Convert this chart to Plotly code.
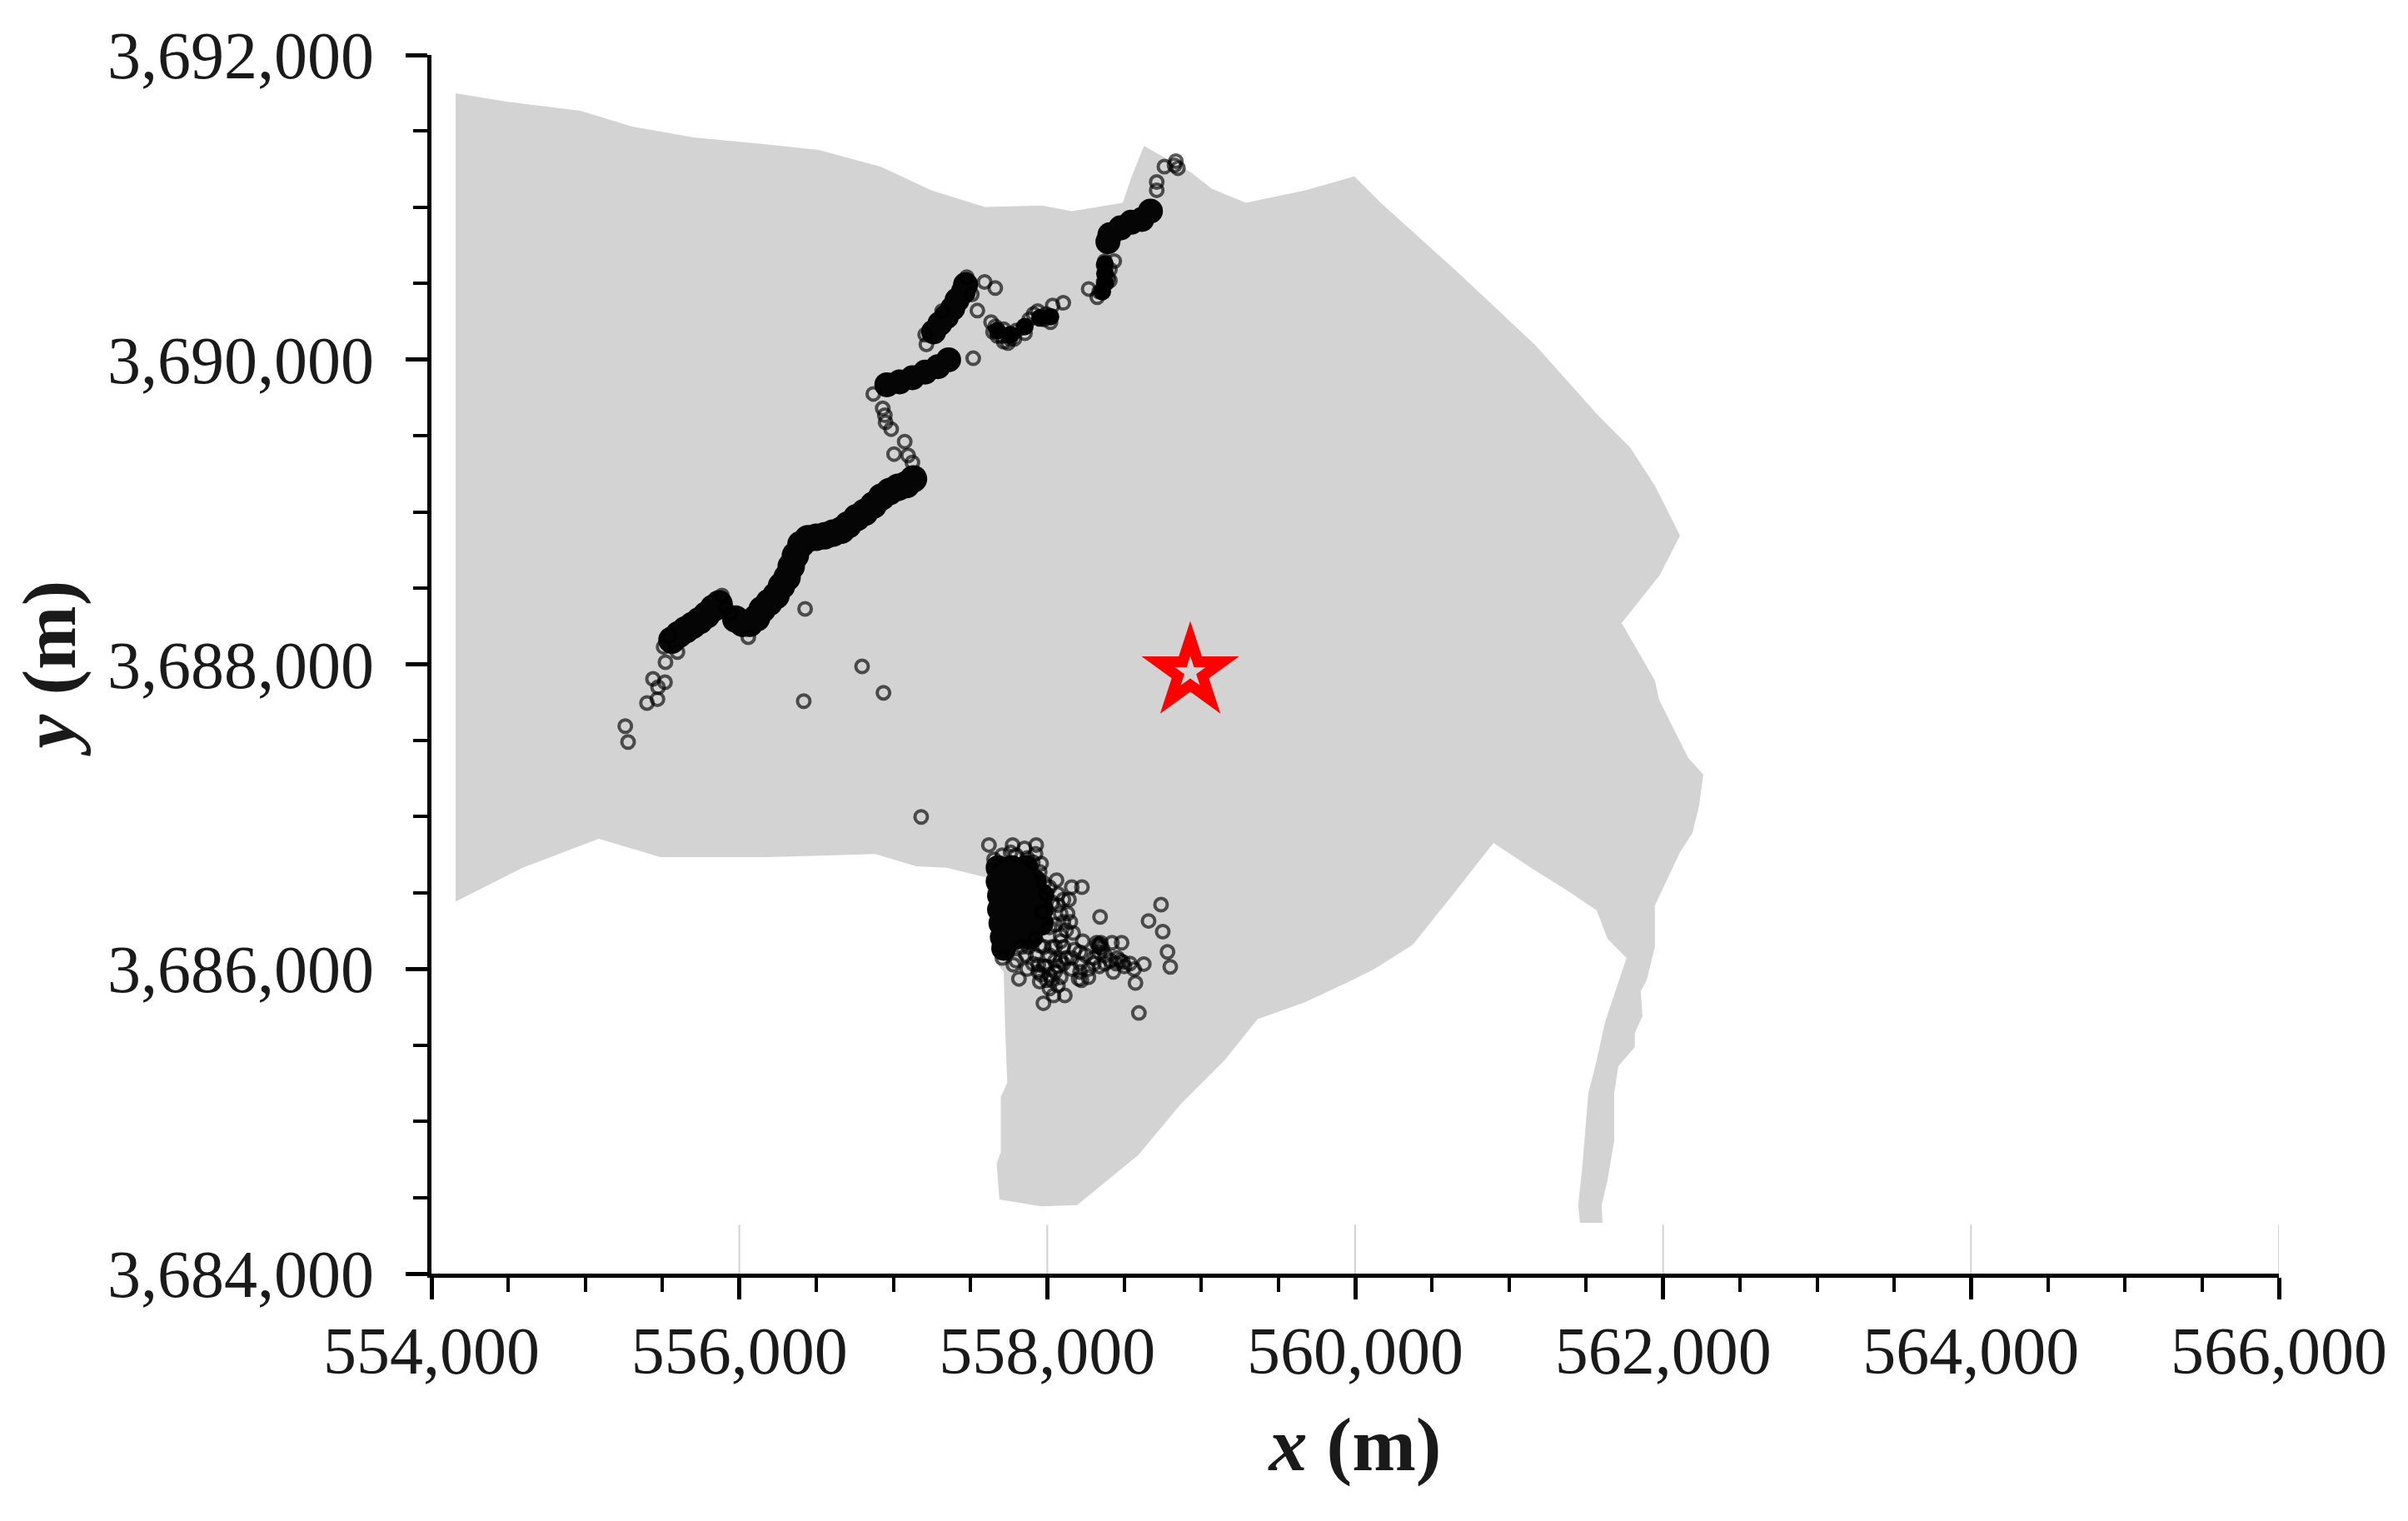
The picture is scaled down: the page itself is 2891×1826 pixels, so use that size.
import plotly.graph_objects as go

# Outline of the grey study area (x, y in metres)
area_x = [554157, 554498, 554968, 555309, 555704, 556159, 556516, 556917, 557248, 557593, 557966, 558159, 558490, 558545,
          558628, 558932, 559070, 559291, 559676, 559995, 560175, 560673, 561172, 561585, 561785, 561947, 562110,
          561980, 561731, 561947, 561974, 562164, 562261, 562234, 562191, 562110, 561947, 561947, 561893, 561855,
          561866, 561817, 561817, 561709, 561682, 561682, 561639, 561601, 561607, 561460, 561449, 561477, 561514,
          561569, 561623, 561763, 561639, 561569, 561385, 561152, 560898, 560665, 560374, 560123, 559943, 559673,
          559366, 559150, 558861, 558591, 558194, 557960, 557689, 557671, 557698, 557698, 557740, 557726, 557717,
          557672, 557600, 557347, 557149, 556883, 556185, 555486, 555087, 554589, 554157]
area_y = [3691748, 3691693, 3691633, 3691529, 3691458, 3691415, 3691376, 3691267, 3691112, 3691002, 3691011, 3690975, 3691030, 3691194,
          3691403, 3691230, 3691121, 3691030, 3691112, 3691203, 3691021, 3690567, 3690093, 3689627, 3689424, 3689173, 3688845,
          3688588, 3688271, 3687893, 3687767, 3687385, 3687275, 3687073, 3686893, 3686767, 3686417, 3686143, 3685925, 3685854,
          3685690, 3685580, 3685487, 3685362, 3685181, 3684869, 3684612, 3684448, 3684334, 3684334, 3684448, 3684722, 3685181,
          3685400, 3685651, 3686072, 3686198, 3686384, 3686510, 3686657, 3686827, 3686526, 3686159, 3685998, 3685908, 3685781,
          3685671, 3685398, 3685106, 3684778, 3684450, 3684441, 3684487, 3684724, 3684796, 3685161, 3685252, 3685617, 3685981,
          3686036, 3686601, 3686665, 3686674, 3686754, 3686734, 3686734, 3686855, 3686663, 3686441]

# Where the events overlap so much they read as solid black: main stretch of the line
ridge_x = [555562, 555607, 555652, 555697, 555742, 555787, 555832, 555868, 555977, 556022, 556067, 556112,
           556148, 556193, 556238, 556274, 556310, 556337, 556364, 556400, 556445, 556499, 556554, 556608,
           556662, 556707, 556761, 556815, 556869, 556923, 556977, 557031, 557085, 557131]
ridge_y = [3688159, 3688196, 3688227, 3688256, 3688287, 3688324, 3688369, 3688396, 3688296, 3688269, 3688269, 3688305,
           3688360, 3688406, 3688451, 3688515, 3688570, 3688643, 3688715, 3688788, 3688825, 3688834, 3688843, 3688861,
           3688880, 3688916, 3688962, 3688998, 3689044, 3689098, 3689135, 3689162, 3689180, 3689217]

# upper, narrower stretches of the line
upper_x = [556958, 557041, 557124, 557207, 557290, 557359,
           557262, 557303, 557345, 557386, 557414, 557455, 557469,
           558394, 558407, 558476, 558545, 558614, 558670]
upper_y = [3689835, 3689854, 3689881, 3689918, 3689954, 3689999,
           3690182, 3690237, 3690282, 3690337, 3690391, 3690446, 3690492,
           3690774, 3690820, 3690865, 3690902, 3690920, 3690975]

# thin dark runs further up the line
thin_x = [557676, 557759, 557855, 557952, 558021, 558374, 558374, 558374, 558358]
thin_y = [3690191, 3690164, 3690218, 3690273, 3690282, 3690628, 3690565, 3690501, 3690446]

# black core of the southern cluster
core_x = [557681, 557771, 557861, 557681, 557771, 557861, 557915, 557690, 557780, 557870, 557960,
          557690, 557780, 557870, 557960, 557699, 557789, 557879, 557960, 557708, 557798, 557888, 557717]
core_y = [3686665, 3686665, 3686665, 3686574, 3686574, 3686574, 3686574, 3686482, 3686482, 3686482, 3686482,
          3686391, 3686391, 3686391, 3686391, 3686300, 3686300, 3686300, 3686300, 3686209, 3686209, 3686209, 3686136]

# Events along the north-east trending line
line_x = [555259, 555277, 555400, 555468, 555439, 555517, 555472, 555520, 555598, 555508, 555544,
          556427, 556797, 556936, 556418, 555887, 555914, 555941, 556058,
          557005, 557074, 557096, 557124, 556945, 556950, 556931, 556986, 556870,
          557519, 557215, 557207, 557477, 557593, 557662, 557546, 557510, 557317,
          557662, 557648, 557704, 557759, 557800, 557842, 557883, 557952, 558021, 558035, 558104,
          557717, 557773, 557911, 557980, 558021, 557676, 557745,
          557635, 557745, 557786, 557717, 557855, 557938, 557993,
          558374, 558435, 558380, 558394, 558366, 558338, 558269, 558325, 558407, 558374, 558366,
          558352, 558385, 558407, 558366,
          558711, 558711, 558761, 558835, 558849, 558827]
line_y = [3687594, 3687490, 3687746, 3687771, 3687904, 3687882, 3687850, 3688014, 3688081, 3688114, 3688187,
          3688364, 3687986, 3687813, 3687758, 3688451, 3688369, 3688333, 3688178,
          3689380, 3689462, 3689371, 3689325, 3689635, 3689589, 3689680, 3689544, 3689775,
          3690009, 3690100, 3690164, 3690541, 3690510, 3690470, 3690322, 3690428, 3690319,
          3690218, 3690182, 3690154, 3690136, 3690191, 3690209, 3690264, 3690282, 3690282, 3690355, 3690373,
          3690200, 3690164, 3690300, 3690264, 3690246, 3690154, 3690109,
          3690246, 3690155, 3690136, 3690118, 3690173, 3690319, 3690300,
          3690647, 3690647, 3690592, 3690537, 3690483, 3690446, 3690464, 3690410, 3690519, 3690565, 3690510,
          3690446, 3690501, 3690592, 3690619,
          3691112, 3691166, 3691267, 3691303, 3691257, 3691276]

# Events in the southern cluster
cluster_x = [557181, 557621, 557775, 557928, 557852, 557924, 557762, 558060, 558159, 558225, 558014, 558141,
             557969, 558132, 558150, 558087, 558105, 558343, 558739, 558658, 558750, 558781, 558799, 558627,
             558564, 558573, 558595, 558483, 558420, 558339, 558330, 558348, 558339, 558492, 558429, 558339,
             558222, 558267, 558204, 558177, 558123, 558014, 557942, 557879, 557951, 557861, 557708, 557816,
             557870, 557780, 557951, 558032, 558087, 558041, 558114, 557975, 558213, 558249, 558303, 558411,
             558537, 558069, 557996, 558159, 558231, 558168, 557942, 558051, 558105, 558014, 558087, 558014,
             558051, 558213, 558456, 558375, 558069, 557996, 558087, 558051, 557951, 557906,
             557924, 557978, 557924, 557834, 557798, 557906, 558051, 557996, 557960, 558069, 558014, 558159,
             558213, 558303, 558267, 558375, 558339, 558321, 558357, 558447, 558501, 558474, 558105, 557978,
             558032, 558087, 558123, 558069, 558105, 558032, 557978, 557960, 557870, 557798, 557708, 557654]
cluster_y = [3686998, 3686814, 3686814, 3686814, 3686792, 3686756, 3686765, 3686583, 3686537, 3686537, 3686537, 3686455,
             3686373, 3686364, 3686309, 3686218, 3686309, 3686342, 3686422, 3686315, 3686245, 3686112, 3686014, 3686032,
             3685999, 3685908, 3685711, 3686172, 3686172, 3686163, 3686154, 3686172, 3686109, 3686045, 3685981, 3686017,
             3685926, 3685945, 3685935, 3686127, 3686072, 3686090, 3686027, 3686145, 3686154, 3686090, 3686072, 3685935,
             3686000, 3686027, 3685917, 3685926, 3685945, 3685826, 3685826, 3685775, 3686036, 3686090, 3686072, 3686054,
             3686036, 3686017, 3686017, 3685999, 3686182, 3686236, 3685981, 3686145, 3686145, 3686273, 3686054, 3685963,
             3685981, 3685981, 3686072, 3686036, 3686419, 3686492, 3686364, 3686291, 3686637, 3686701,
             3686200, 3686145, 3686090, 3686145, 3686054, 3686036, 3686054, 3685926, 3685963, 3685890, 3685872, 3686072,
             3686109, 3686036, 3685999, 3686090, 3686145, 3686172, 3686136, 3686036, 3686017, 3686054, 3686036, 3686017,
             3686145, 3686182, 3686254, 3686492, 3686455, 3686437, 3686564, 3686692, 3686728, 3686747, 3686747, 3686719]

star_x = [558929]
star_y = [3687948]

x_ticks = [554000, 556000, 558000, 560000, 562000, 564000, 566000]
y_ticks = [3684000, 3686000, 3688000, 3690000, 3692000]

# Short grey gridline stubs that rise from the x axis
stub_x = []
stub_y = []
for t in x_ticks[1:]:
    stub_x += [t, t, None]
    stub_y += [3684000, 3684320, None]

serif = "Liberation Serif"
area_grey = "#d3d3d3"

fig = go.Figure()

fig.add_trace(go.Scatter(x=area_x, y=area_y, mode="lines", fill="toself", fillcolor=area_grey,
                         line=dict(color=area_grey, width=0), hoverinfo="skip"))
fig.add_trace(go.Scatter(x=stub_x, y=stub_y, mode="lines", line=dict(color="#d2d2d2", width=2), hoverinfo="skip"))
for xs, ys, s in [(ridge_x, ridge_y, 33), (upper_x, upper_y, 30), (thin_x, thin_y, 21), (core_x, core_y, 30)]:
    fig.add_trace(go.Scatter(x=xs, y=ys, mode="markers",
                             marker=dict(symbol="circle", size=s, color="#050505", line=dict(width=0))))
for xs, ys in [(line_x, line_y), (cluster_x, cluster_y)]:
    fig.add_trace(go.Scatter(x=xs, y=ys, mode="markers",
                             marker=dict(symbol="circle-open", size=15, color="rgba(0,0,0,0.65)",
                                         line=dict(width=4, color="rgba(0,0,0,0.65)"))))
# star with a grey centre
fig.add_trace(go.Scatter(x=star_x, y=star_y, mode="markers",
                         marker=dict(symbol="star", size=88, color="#ff0000", line=dict(width=0))))
fig.add_trace(go.Scatter(x=star_x, y=star_y, mode="markers",
                         marker=dict(symbol="star", size=28, color=area_grey, line=dict(width=0))))

axis_style = dict(
    showgrid=False, zeroline=False, showline=True, linecolor="black", linewidth=5,
    ticks="outside", ticklen=26, tickwidth=5, tickcolor="black", tickformat=",",
    tickfont=dict(family=serif, size=80, color="#1a1a1a"), tickmode="array",
    minor=dict(ticks="outside", ticklen=17, tickwidth=4, tickcolor="black", dtick=500, showgrid=False),
)

fig.update_xaxes(range=[554000, 566000], tickvals=x_ticks, ticklabelstandoff=-7,
                 title=dict(text="<b><i>x</i> (m)</b>", font=dict(family=serif, size=92, color="#1a1a1a"), standoff=37),
                 **axis_style)
fig.update_yaxes(range=[3684000, 3692000], tickvals=y_ticks, ticklabelstandoff=22,
                 title=dict(text="<b><i>y</i> (m)</b>", font=dict(family=serif, size=92, color="#1a1a1a"), standoff=16),
                 **axis_style)

# the page adds 8 px round the plot, taken off the margins here
fig.update_layout(width=2891, height=1826, autosize=False, showlegend=False,
                  plot_bgcolor="white", paper_bgcolor="white",
                  margin=dict(l=510, r=163, t=58, b=305, autoexpand=False))

fig.write_html("out.html")
